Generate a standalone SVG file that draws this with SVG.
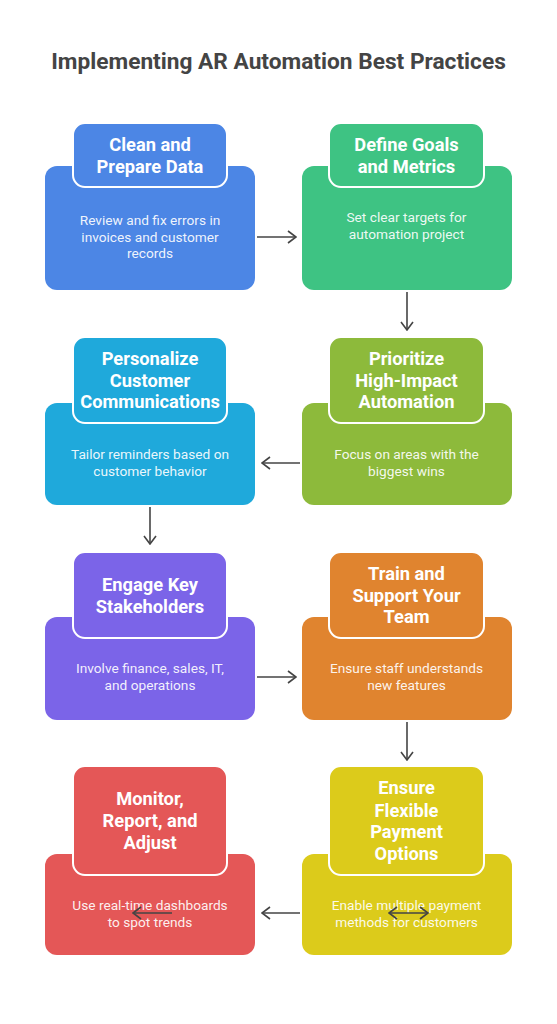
<svg xmlns="http://www.w3.org/2000/svg" width="557" height="1024" viewBox="0 0 557 1024">
<style>
.title{font-family:Roboto,"Liberation Sans",sans-serif;font-weight:700;font-size:22.7px;fill:#444444;text-anchor:middle}
.hd{font-family:Roboto,"Liberation Sans",sans-serif;font-weight:700;font-size:18.3px;fill:#ffffff;text-anchor:middle}
.ds{font-family:Roboto,"Liberation Sans",sans-serif;font-size:13.7px;fill:#ffffff;fill-opacity:0.92;text-anchor:middle}
.hbox{stroke:#ffffff;stroke-width:2}
.conn{stroke:#444444;stroke-width:1.6;fill:none;marker-end:url(#ah)}
</style>
<defs>
<marker id="ah" viewBox="0 0 10 14" refX="9" refY="7" markerWidth="10" markerHeight="14" markerUnits="userSpaceOnUse" orient="auto-start-reverse">
<path d="M1,1 L9,7 L1,13" fill="none" stroke="#444444" stroke-width="1.6"/>
</marker>
</defs>
<rect width="557" height="1024" fill="#ffffff"/>
<text class="title" x="278.5" y="69">Implementing AR Automation Best Practices</text>

<g id="n1">
<rect x="45" y="166" width="210" height="124" rx="12" fill="#4C86E5"/>
<rect class="hbox" x="73" y="123" width="154" height="64" rx="12" fill="#4C86E5"/>
<text class="hd" x="150" y="151">Clean and</text>
<text class="hd" x="150" y="173">Prepare Data</text>
<text class="ds" x="150" y="225">Review and fix errors in</text>
<text class="ds" x="150" y="241.5">invoices and customer</text>
<text class="ds" x="150" y="257.5">records</text>
</g>

<g id="n2">
<rect x="302" y="166" width="210" height="124" rx="12" fill="#3EC383"/>
<rect class="hbox" x="329" y="123" width="155" height="64" rx="12" fill="#3EC383"/>
<text class="hd" x="406.5" y="151">Define Goals</text>
<text class="hd" x="406.5" y="173">and Metrics</text>
<text class="ds" x="406.5" y="222">Set clear targets for</text>
<text class="ds" x="406.5" y="238.5">automation project</text>
</g>

<g id="n3">
<rect x="302" y="403" width="210" height="102" rx="12" fill="#8DBA3B"/>
<rect class="hbox" x="329" y="337" width="155" height="86" rx="12" fill="#8DBA3B"/>
<text class="hd" x="406.5" y="365">Prioritize</text>
<text class="hd" x="406.5" y="387">High-Impact</text>
<text class="hd" x="406.5" y="408">Automation</text>
<text class="ds" x="406.5" y="459">Focus on areas with the</text>
<text class="ds" x="406.5" y="475.5">biggest wins</text>
</g>

<g id="n4">
<rect x="45" y="403" width="210" height="102" rx="12" fill="#1FA9DB"/>
<rect class="hbox" x="73" y="337" width="154" height="86" rx="12" fill="#1FA9DB"/>
<text class="hd" x="150" y="365">Personalize</text>
<text class="hd" x="150" y="387">Customer</text>
<text class="hd" x="150" y="408">Communications</text>
<text class="ds" x="150" y="459">Tailor reminders based on</text>
<text class="ds" x="150" y="475.5">customer behavior</text>
</g>

<g id="n5">
<rect x="45" y="617" width="210" height="103" rx="12" fill="#7B64E8"/>
<rect class="hbox" x="73" y="552" width="154" height="86" rx="12" fill="#7B64E8"/>
<text class="hd" x="150" y="591">Engage Key</text>
<text class="hd" x="150" y="613">Stakeholders</text>
<text class="ds" x="150" y="673">Involve finance, sales, IT,</text>
<text class="ds" x="150" y="689.5">and operations</text>
</g>

<g id="n6">
<rect x="302" y="617" width="210" height="103" rx="12" fill="#E0842F"/>
<rect class="hbox" x="329" y="552" width="155" height="86" rx="12" fill="#E0842F"/>
<text class="hd" x="406.5" y="580">Train and</text>
<text class="hd" x="406.5" y="602">Support Your</text>
<text class="hd" x="406.5" y="623">Team</text>
<text class="ds" x="406.5" y="673">Ensure staff understands</text>
<text class="ds" x="406.5" y="689.5">new features</text>
</g>

<g id="n7">
<rect x="302" y="854" width="210" height="101" rx="12" fill="#DCCB1B"/>
<rect class="hbox" x="329" y="766" width="155" height="109" rx="12" fill="#DCCB1B"/>
<text class="hd" x="406.5" y="794">Ensure</text>
<text class="hd" x="406.5" y="817">Flexible</text>
<text class="hd" x="406.5" y="838">Payment</text>
<text class="hd" x="406.5" y="860">Options</text>
<text class="ds" x="406.5" y="910">Enable multiple payment</text>
<text class="ds" x="406.5" y="926.5">methods for customers</text>
</g>

<g id="n8">
<rect x="45" y="854" width="210" height="101" rx="12" fill="#E45757"/>
<rect class="hbox" x="73" y="766" width="154" height="109" rx="12" fill="#E45757"/>
<text class="hd" x="150" y="805">Monitor,</text>
<text class="hd" x="150" y="827">Report, and</text>
<text class="hd" x="150" y="849">Adjust</text>
<text class="ds" x="150" y="910">Use real-time dashboards</text>
<text class="ds" x="150" y="926.5">to spot trends</text>
</g>

<g id="connectors">
<path class="conn" d="M257,237 L296,237"/>
<path class="conn" d="M407,292 L407,330"/>
<path class="conn" d="M300,463 L262,463"/>
<path class="conn" d="M150,507 L150,544"/>
<path class="conn" d="M257,677 L296,677"/>
<path class="conn" d="M407,722 L407,760"/>
<path class="conn" d="M300,913 L262,913"/>
<path class="conn" d="M172,913 L133,913"/>
<path class="conn" d="M389,913 L428,913" style="marker-start:url(#ah)"/>
</g>
</svg>
